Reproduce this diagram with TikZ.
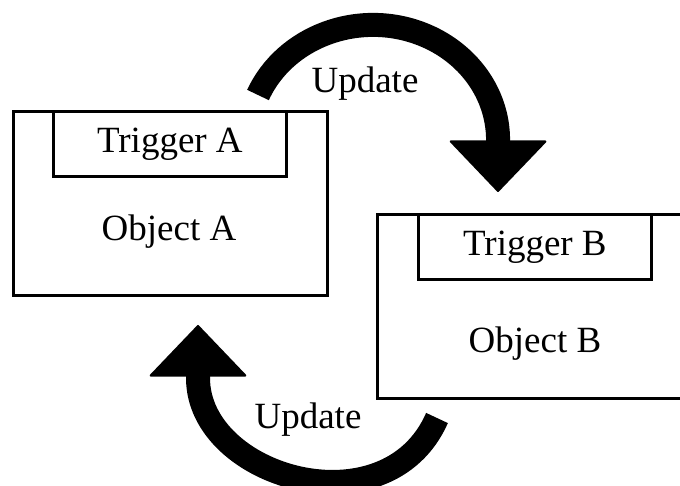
\documentclass[tikz,border=0pt]{standalone}
\usepackage{fontspec}
\setmainfont{Liberation Serif}
\usetikzlibrary{arrows.meta,positioning}
\tikzset{
  obox/.style={rectangle,draw=black,line width=2.8pt,inner sep=0pt,
               minimum height=184pt},
  tbox/.style={rectangle,draw=black,line width=2.8pt,inner sep=0pt,
               minimum width=233pt,minimum height=65pt,
               font=\fontsize{37}{40}\selectfont},
  txt/.style={inner sep=0pt,font=\fontsize{37}{40}\selectfont},
  uarr/.style={draw=black,line width=24pt,
               -{Triangle[width=99pt,length=52pt,line width=2pt,round]}},
}

\begin{document}
\begin{tikzpicture}[x=1pt,y=1pt]
  \useasboundingbox (0,0) rectangle (680,486);
  \clip (0,0) rectangle (680,486);
  % objects with their triggers
  \node[obox,minimum width=314pt,anchor=south west] (objA) at (12,189) {};
  \node[tbox,below right=0pt and 40pt of objA.north west] (trigA) {Trigger A};
  \node[txt] (lblA) at (169,254) {Object A};
  \node[obox,minimum width=330pt,anchor=south west] (objB) at (376,86) {};
  \node[tbox,below right=0pt and 41pt of objB.north west] (trigB) {Trigger B};
  \node[txt] (lblB) at (535,142) {Object B};
  % update arrows
  \coordinate (updAs) at (258,391);
  \coordinate (updAe) at (498,294);
  \draw[uarr] (updAs) arc[start angle=157,end angle=0,
                          x radius=125pt,y radius=115pt] -- (updAe);
  \node[txt] (updA) at (365,402) {Update};
  \coordinate (updBs) at (437,68);
  \coordinate (updBe) at (198,161);
  \draw[uarr] (updBs) .. controls (387,-46) and (198,8) .. (198,108) -- (updBe);
  \node[txt] (updB) at (308,66) {Update};
\end{tikzpicture}
\end{document}
